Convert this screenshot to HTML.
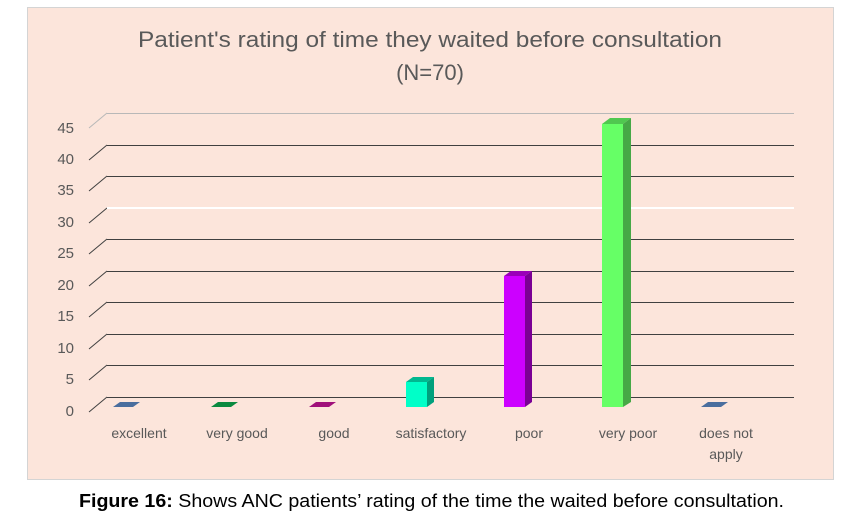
<!DOCTYPE html>
<html><head><meta charset="utf-8"><style>
body{margin:0;background:#fff;}
svg{display:block;font-family:"Liberation Sans",sans-serif;}
</style></head><body>
<svg width="847" height="518" viewBox="0 0 847 518" xmlns="http://www.w3.org/2000/svg">
<rect x="27.5" y="7.5" width="806" height="472" fill="#FCE5DB" stroke="#d4d4d4"/>
<text x="430" y="47" font-size="22" fill="#595959" text-anchor="middle" textLength="584" lengthAdjust="spacingAndGlyphs">Patient's rating of time they waited before consultation</text>
<text x="430" y="80" font-size="22" fill="#595959" text-anchor="middle">(N=70)</text>
<g stroke-width="1">
<g stroke="#b8b8b8"><line x1="89" y1="128" x2="107" y2="113"/><line x1="107" y1="113.5" x2="794" y2="113.5"/></g>
<g stroke="#404040">
<line x1="89" y1="160" x2="107" y2="145"/><line x1="107" y1="145.5" x2="794" y2="145.5"/>
<line x1="89" y1="191" x2="107" y2="176"/><line x1="107" y1="176.5" x2="794" y2="176.5"/>
<line x1="89" y1="223" x2="107" y2="208"/>
<line x1="89" y1="254" x2="107" y2="239"/><line x1="107" y1="239.5" x2="794" y2="239.5"/>
<line x1="89" y1="286" x2="107" y2="271"/><line x1="107" y1="271.5" x2="794" y2="271.5"/>
<line x1="89" y1="317" x2="107" y2="302"/><line x1="107" y1="302.5" x2="794" y2="302.5"/>
<line x1="89" y1="349" x2="107" y2="334"/><line x1="107" y1="334.5" x2="794" y2="334.5"/>
<line x1="89" y1="380" x2="107" y2="365"/><line x1="107" y1="365.5" x2="794" y2="365.5"/>
<line x1="89" y1="412" x2="107" y2="397"/><line x1="107" y1="397.5" x2="794" y2="397.5"/>
</g>
<line x1="107" y1="208" x2="794" y2="208" stroke="#ffffff" stroke-width="2"/>
</g>
<g font-size="15" fill="#595959" text-anchor="end">
<text x="74" y="133">45</text><text x="74" y="164">40</text><text x="74" y="195">35</text><text x="74" y="227">30</text><text x="74" y="258">25</text><text x="74" y="290">20</text><text x="74" y="321">15</text><text x="74" y="353">10</text><text x="74" y="384">5</text><text x="74" y="416">0</text>
</g>
<polygon points="113,407 133,407 140,402 120,402" fill="#4A6E9E"/>
<polygon points="211,407 231,407 238,402 218,402" fill="#0A8A40"/>
<polygon points="309,407 329,407 336,402 316,402" fill="#A0107A"/>
<polygon points="701,407 721,407 728,402 708,402" fill="#4A6E9E"/>
<polygon points="406,382 427,382 434,377 413,377" fill="#00B890"/>
<polygon points="427,382 434,377 434,402 427,407" fill="#00A07C"/>
<rect x="406" y="382" width="21" height="25" fill="#00FFC8"/>
<polygon points="504,276 525,276 532,271 511,271" fill="#9A00B8"/>
<polygon points="525,276 532,271 532,402 525,407" fill="#7A0094"/>
<rect x="504" y="276" width="21" height="131" fill="#CC00FF"/>
<polygon points="602,124 623,124 631,118 610,118" fill="#50C850"/>
<polygon points="623,124 631,118 631,402 623,407" fill="#46A846"/>
<rect x="602" y="124" width="21" height="283" fill="#66FF66"/>
<g font-size="14" fill="#595959" text-anchor="middle">
<text x="139" y="438">excellent</text><text x="237" y="438">very good</text><text x="334" y="438">good</text><text x="431" y="438">satisfactory</text><text x="529" y="438">poor</text><text x="628" y="438">very poor</text><text x="726" y="438">does not</text><text x="726" y="459">apply</text>
</g>
<text x="79" y="507" font-size="18" fill="#000" textLength="705" lengthAdjust="spacingAndGlyphs"><tspan font-weight="bold">Figure 16:</tspan> Shows ANC patients’ rating of the time the waited before consultation.</text>
</svg>
</body></html>
